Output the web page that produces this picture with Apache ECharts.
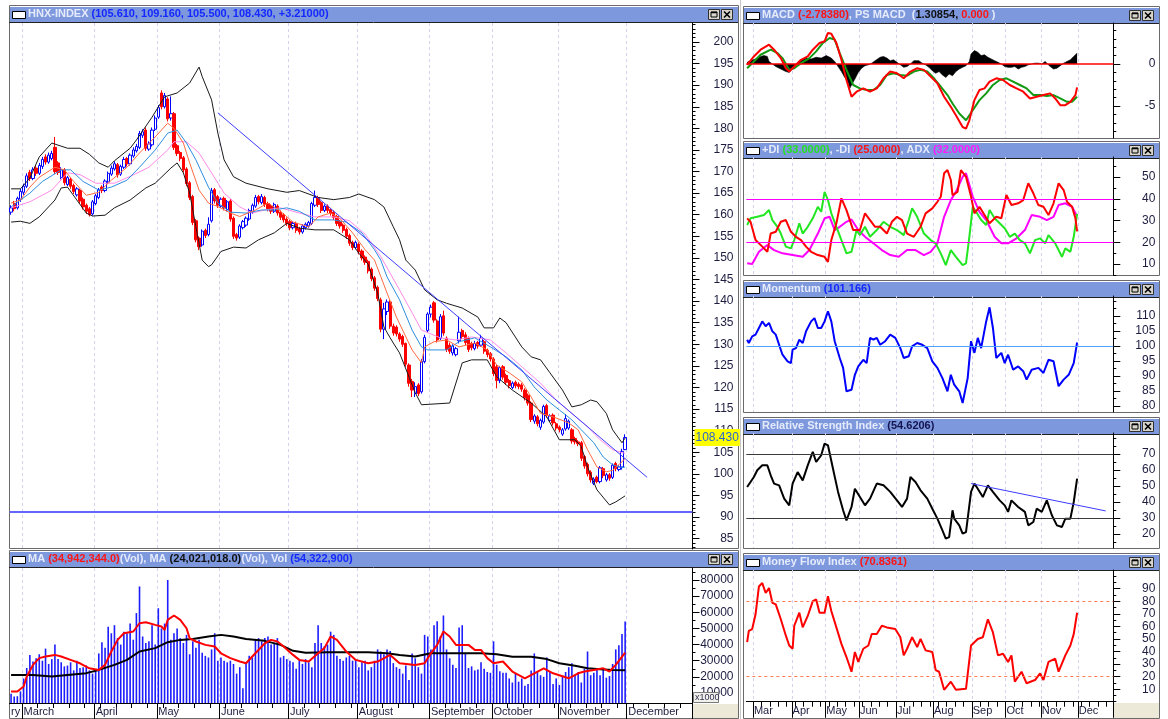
<!DOCTYPE html>
<html>
<head>
<meta charset="utf-8">
<script src="https://cdn.jsdelivr.net/npm/echarts@6/dist/echarts.min.js"></script>
<style>
  html, body { margin: 0; padding: 0; background: #fff; }
  #chart { width: 1168px; height: 719px; }
</style>
</head>
<body>
<div id="chart"></div>
<script>
// trading days per month on the shared date axis (Feb tail .. empty December)
const monthNames = ['ry', 'March', 'April', 'May', 'June', 'July', 'August', 'September', 'October', 'November', 'December'];
const monthShort = ['', 'Mar', 'Apr', 'May', 'Jun', 'Jul', 'Aug', 'Sep', 'Oct', 'Nov', 'Dec'];
const monthLens = [4, 23, 20, 20, 22, 22, 23, 20, 21, 22, 21];

// HNX-INDEX daily candles: [open, close, low, high]
const ohlc = [
  [160.6,161.6,160.0,162.2],[162.6,161.4,160.8,163.2],[161.6,163.8,161.2,164.2],[163.6,165.4,163.0,166.0],[165.2,166.6,164.6,167.2],
  [166.6,169.0,166.2,169.6],[169.8,168.4,167.8,170.4],[168.4,170.4,168.0,171.0],[170.8,169.6,169.0,171.4],[169.6,171.4,169.2,172.0],
  [171.2,172.8,170.6,173.4],[173.4,172.2,171.6,174.0],[172.2,173.8,171.8,174.4],[173.0,174.2,172.6,174.8],[175.6,170.0,169.4,178.0],
  [172.0,169.8,169.2,172.4],[168.6,170.4,168.2,171.0],[170.4,167.4,166.8,170.8],[167.0,168.6,166.6,169.0],[168.2,166.6,166.0,168.6],
  [166.8,165.4,164.8,167.2],[164.6,166.0,164.2,166.4],[165.6,163.2,162.6,166.0],[163.6,161.8,161.2,164.0],[162.2,160.8,160.2,162.6],
  [161.4,160.0,159.6,161.8],[160.2,163.0,159.8,163.4],[162.6,164.4,162.2,164.8],[164.0,165.8,163.6,166.2],[166.4,165.6,165.0,166.8],
  [165.6,167.8,165.2,168.2],[167.6,169.6,167.2,170.0],[169.4,170.8,169.0,171.4],[170.6,171.8,170.2,172.4],[171.6,169.2,168.6,172.0],
  [169.4,171.2,169.0,171.6],[171.0,172.8,170.6,173.4],[173.0,171.8,171.2,173.4],[171.8,173.8,171.4,174.2],[173.6,175.0,173.2,175.6],
  [174.8,175.8,174.4,176.4],[175.6,178.8,175.2,179.4],[178.4,179.2,177.8,179.8],[179.6,175.4,174.8,180.2],[175.2,176.4,174.8,177.0],
  [176.2,179.6,175.8,180.2],[179.8,182.4,179.4,183.0],[182.6,184.8,182.2,185.4],[188.2,185.0,184.4,188.8],[185.0,187.6,184.6,188.2],
  [186.8,182.2,181.6,187.2],[182.4,183.4,181.8,187.4],[183.4,175.6,175.0,183.8],[176.0,174.2,173.6,176.4],[174.4,173.0,172.4,174.8],
  [173.2,170.4,169.8,173.6],[170.6,167.2,166.6,171.0],[167.4,164.0,163.4,167.8],[164.2,158.2,157.6,164.6],[158.6,154.2,153.6,159.0],
  [154.6,152.6,151.8,155.0],[153.0,156.2,152.6,156.6],[156.4,155.2,154.6,156.8],[155.4,157.8,155.0,159.4],[158.6,165.6,158.2,166.2],
  [165.8,163.2,162.6,166.2],[164.2,162.2,161.6,164.6],[162.0,163.6,161.6,164.0],[163.8,161.6,161.0,164.2],[161.2,163.0,160.8,163.4],
  [163.2,159.0,158.4,163.6],[159.2,155.0,154.4,159.6],[155.4,154.6,154.0,155.8],[154.8,157.4,154.4,157.8],[157.0,158.4,156.6,158.8],
  [157.6,159.2,157.2,159.6],[159.0,161.0,158.6,161.4],[160.6,162.2,160.2,162.6],[162.0,164.0,161.6,164.6],[164.2,163.0,162.4,164.6],
  [162.8,164.2,162.4,164.8],[164.0,162.4,161.8,164.4],[162.6,161.4,160.8,163.0],[162.0,160.8,160.2,162.4],[160.8,162.4,160.4,162.8],
  [162.0,160.4,159.8,162.4],[160.6,159.4,158.8,161.0],[160.0,158.8,158.2,160.4],[159.0,158.0,157.4,159.4],[158.4,157.0,156.4,158.8],
  [157.0,158.0,156.6,158.4],[158.0,156.4,155.8,158.4],[156.8,156.0,155.4,157.2],[156.0,157.4,155.6,157.8],[157.0,157.8,156.6,158.2],
  [157.4,158.2,157.0,158.6],[158.0,162.6,157.6,163.0],[162.2,164.0,161.8,165.6],[164.0,162.4,161.8,164.4],[162.8,161.0,160.4,163.2],
  [161.0,162.0,160.6,162.4],[162.0,161.0,160.4,162.4],[161.2,160.4,159.8,161.6],[160.6,159.4,158.8,161.0],[159.6,158.0,157.4,160.0],
  [158.4,157.4,156.8,158.8],[157.6,156.4,155.8,158.0],[156.6,155.0,154.4,157.0],[155.2,153.4,152.8,155.6],[153.6,152.4,151.8,154.0],
  [152.4,153.6,152.0,154.0],[153.2,151.4,150.8,153.6],[151.6,150.0,149.4,152.0],[150.2,149.0,148.4,150.6],[149.2,147.0,146.4,149.6],
  [147.4,145.2,144.6,147.8],[145.4,143.0,142.4,145.8],[143.2,140.6,140.0,143.6],[140.3,133.5,132.8,140.8],[133.5,138.2,131.2,139.6],
  [137.6,139.8,136.8,140.4],[139.8,134.2,133.6,140.2],[134.2,132.6,132.0,134.8],[134.0,132.4,131.8,134.4],[132.4,131.2,130.6,132.8],
  [131.8,130.0,129.4,132.2],[130.2,125.4,124.8,130.4],[125.2,121.0,120.2,125.6],[121.4,119.4,117.8,122.0],[118.6,120.2,117.8,121.2],
  [120.6,118.6,118.0,121.0],[119.0,126.0,118.6,126.6],[126.0,131.6,125.6,132.2],[133.2,137.0,132.8,137.4],[137.0,138.6,136.2,139.2],
  [139.6,135.6,135.0,140.0],[135.4,131.0,130.4,135.8],[131.4,136.4,131.0,137.0],[136.6,132.6,132.0,137.8],[131.4,128.8,128.2,131.8],
  [129.8,128.4,127.8,130.4],[128.0,129.6,127.4,130.0],[127.6,129.0,127.2,129.4],[130.8,132.8,130.2,136.4],[133.2,131.8,131.2,133.6],
  [132.2,130.4,129.8,132.8],[131.4,128.8,128.2,131.8],[130.2,129.2,128.6,130.6],[129.0,130.2,128.6,130.8],[130.4,129.6,129.0,130.8],
  [129.8,131.4,129.4,132.2],[130.6,128.4,127.8,131.0],[128.6,127.6,127.0,129.0],[127.8,126.6,126.0,128.2],[126.6,123.2,122.6,127.0],
  [124.8,121.6,119.8,125.2],[121.6,124.6,121.0,125.0],[124.8,122.4,121.8,125.2],[122.8,121.2,120.6,123.2],[121.6,120.4,119.8,122.0],
  [120.0,121.0,119.6,121.4],[121.2,120.4,119.8,121.6],[120.8,120.2,119.6,121.2],[120.6,119.6,119.0,121.0],[119.4,117.6,117.0,119.8],
  [118.2,116.4,115.8,118.6],[116.4,112.6,112.0,116.8],[112.2,113.4,111.6,113.8],[113.2,111.6,111.0,113.6],[110.8,112.4,110.2,112.8],
  [112.0,115.6,111.6,116.0],[115.8,113.6,113.0,116.2],[112.4,113.4,112.0,113.8],[113.6,111.8,111.2,114.0],[111.6,110.6,110.0,112.0],
  [110.8,110.2,109.6,111.2],[109.2,110.2,108.8,110.6],[110.4,112.8,110.0,113.8],[110.6,112.2,110.2,112.6],[110.2,107.6,107.0,110.6],
  [108.2,107.4,106.8,108.6],[107.4,107.0,106.4,107.8],[107.2,103.6,103.0,107.6],[104.0,101.8,101.2,104.4],[102.2,100.0,99.4,102.6],
  [100.4,98.6,98.0,100.8],[97.8,98.8,97.4,99.2],[99.2,98.2,97.8,99.6],[98.2,101.4,97.8,101.8],[101.2,99.6,99.0,101.6],
  [98.6,99.8,98.2,100.2],[99.8,99.0,98.4,100.2],[99.2,102.0,98.8,102.4],[102.4,101.2,100.6,102.8],[101.0,101.6,100.6,102.0],
  [101.6,105.22,101.0,105.8],[105.61,108.43,105.5,109.16]
];

// daily volume, thousands of shares
const volume = [
  9500,7800,8000,11000,19000,25500,33500,29500,31500,34000,30000,37500,28000,31000,40000,31000,29000,26500,27000,29000,
  24000,30000,25500,26000,27000,24000,22000,24000,34500,41500,38000,51000,47000,52000,44000,40000,48000,47000,53000,43000,
  59500,76000,45000,41000,42000,52000,40000,62500,50000,53000,80000,43000,47000,50000,44000,41000,46000,34000,42000,38000,
  43000,35000,33000,32000,37000,47000,30000,32000,30000,29000,30000,28000,22000,26000,13000,29000,33000,32000,43000,44000,
  42000,44000,45000,40000,41000,44000,32000,33000,31000,30000,29000,25000,30000,28000,31000,29000,26000,41000,52000,41000,
  39000,40000,48000,46000,33000,31000,30000,32000,33000,30000,31000,26000,29000,30000,24000,26000,30000,37000,35700,34000,
  37000,36000,28500,26000,25000,22000,27000,18000,34500,31500,26000,22000,46000,45000,37000,52000,54500,45000,58000,37000,
  31500,27500,25500,50500,52000,34500,25500,26500,24000,24500,29000,25000,23000,22500,42000,27500,23500,22500,22500,19000,
  16500,22000,17000,19000,14500,15500,24000,34500,23000,21000,20000,32000,23000,15500,19000,15000,20000,23000,26000,28500,
  21000,23000,16500,25000,35700,21000,22500,25500,21000,25500,19500,20500,28000,37000,39500,46500,54323
];

// [day, value] readings of the overlay lines
const bbUpper = [[0,166],[3,166],[6,168.5],[9,173.4],[13,176.6],[18,175.4],[22,175.4],[25,174],[28,172],[31,171],[33,172.5],[38,175.4],[40,177.3],[45,182.6],[49,187.3],[53,188.2],[57,190.5],[60,194.2],[61,192],[64,186.6],[66,178.9],[68,172.7],[71,168.8],[75,167.3],[82,166],[88,165.2],[92,165.6],[98,164],[103,163.5],[108,164],[111,164.8],[116,163.5],[119,161.8],[122,157.2],[124,154.2],[126,149.5],[129,147.2],[132,142.6],[136,140.3],[139,139.5],[144,138.4],[149,136.3],[151,133.8],[154,133.8],[156,136.1],[158,135],[163,129.4],[166,127.1],[169,126.4],[172,123.4],[176,119.4],[179,115.5],[182,116],[185,117.1],[187,116.7],[190,114],[192,110.2],[195,107.2],[196,108.3]];
const bbLower = [[0,158.3],[3,158.5],[6,158],[9,159.5],[14,163.4],[16,166.2],[18,166.4],[21,163.4],[24,160.4],[26,159.7],[30,159.9],[33,161.6],[38,163.4],[43,166.2],[46,167.3],[51,170.8],[53,172],[55,169.7],[57,165],[59,157.2],[61,149.5],[63,148],[64,148.4],[67,151.5],[71,152.5],[75,152.3],[79,154.2],[84,155.8],[88,158],[92,156.9],[97,156.5],[103,156.5],[108,154.2],[111,151.1],[114,148.5],[117,141.9],[119,134],[121,131.5],[122,130.3],[124,128],[129,118.8],[131,116],[140,116.4],[144,125.7],[147,126.4],[152,126.4],[155,122.5],[160,119.4],[166,116.4],[171,113.2],[175,107.9],[180,107.9],[182,106.3],[184,101.6],[187,96.3],[191,92.8],[193,93.5],[196,94.9]];
const maFast = [[0,162.7],[3,163.4],[6,166.4],[9,168.7],[14,171],[17,170.4],[20,167.7],[24,164.5],[28,165.2],[32,168],[37,171],[41,174.3],[46,178],[50,181.2],[52,180],[55,176.6],[57,172],[60,165.7],[63,162.7],[66,161.9],[70,160.4],[73,159.6],[78,161.1],[82,162.7],[86,160.8],[90,158.3],[95,157.2],[98,159.5],[102,160.4],[105,159.1],[109,155.8],[113,151.9],[116,149.5],[118,145.7],[120,141.9],[123,136.3],[128,128.7],[131,125.7],[132,129.4],[135,130.6],[139,131],[143,129.4],[148,130.3],[152,128.7],[155,125.2],[159,123.4],[163,121.3],[166,117.8],[169,114],[173,113.2],[178,111.8],[181,110.2],[184,105.6],[187,101.6],[190,100.5],[192,100.8],[195,102.8],[196,103.6]];
const maMid = [[0,161.8],[6,165],[10,167.7],[16,170.4],[19,170.4],[23,167.7],[28,165.7],[32,166.4],[37,168],[41,171],[46,175],[50,178.9],[53,179.6],[56,176.6],[59,172.7],[63,166.4],[66,162.7],[70,160.6],[75,160.4],[80,161.1],[84,161.1],[88,161.6],[92,160.8],[97,158.8],[103,158.8],[107,158.3],[112,155.8],[116,151.9],[118,149.5],[120,145.6],[124,140.3],[128,133.3],[131,129.4],[133,128.7],[139,128.7],[143,130.6],[148,131.5],[153,129.4],[158,127.1],[163,124.1],[167,120.1],[171,117.1],[175,114.8],[179,112.5],[182,110.2],[186,107.2],[189,103.9],[192,102.1],[195,101.4],[196,101.6]];
const maSlow = [[0,161.6],[6,163],[13,165.7],[18,169.7],[22,169.3],[27,167.3],[33,167.3],[39,169.2],[44,171],[50,175],[52,176.9],[56,176.9],[60,174.3],[64,169.7],[68,165],[73,161.8],[77,160.4],[81,161.1],[86,161.6],[92,160.4],[97,159.5],[103,159.5],[108,158.6],[113,155.5],[118,150.3],[124,142.6],[128,137.3],[131,133.3],[137,131.5],[142,131],[147,131.7],[153,131],[158,128],[163,124.8],[169,121],[174,117.1],[179,114],[184,110.9],[188,107.9],[192,105.6],[195,104.9],[196,104.8]];
const trendMain = [[66,183.6],[203,99.2]];
const supportLevel = 91.3;

const volMaShort = [[0,10900],[2,10900],[4,14000],[5,20200],[7,27400],[9,31600],[11,32600],[14,33600],[16,32600],[19,30500],[22,28400],[25,25300],[28,24300],[30,27400],[32,35700],[34,42900],[36,47000],[39,48100],[41,53200],[43,53800],[46,52200],[48,51200],[49,49100],[50,55300],[52,58000],[54,55300],[56,50100],[57,43900],[59,41900],[62,39800],[65,38800],[67,34600],[70,31600],[73,29500],[75,28400],[77,32600],[81,40800],[83,42900],[85,41900],[87,38800],[90,33600],[92,30500],[95,29500],[98,34600],[100,37800],[102,45000],[104,42900],[107,35700],[110,30500],[114,28400],[117,29500],[121,33600],[124,28400],[129,27400],[132,28400],[134,34600],[136,39800],[138,48100],[140,45000],[142,39800],[146,39800],[148,36700],[150,36700],[152,31600],[154,28400],[157,29500],[160,23300],[164,19100],[167,22200],[170,25300],[173,22200],[178,19100],[181,22200],[183,23300],[186,24300],[189,25300],[191,23300],[193,27400],[196,34942]];
const volMaLong = [[0,21200],[7,21200],[13,20200],[18,21200],[24,22300],[28,24300],[33,27400],[37,30500],[41,35700],[46,37800],[50,41500],[54,42900],[58,43500],[63,45000],[67,46000],[71,45000],[75,43500],[81,42300],[86,39800],[90,36100],[94,35000],[101,35200],[107,35200],[114,35200],[120,34600],[124,33600],[129,32600],[134,34600],[139,34600],[145,34600],[150,34600],[155,34000],[160,32400],[166,32400],[171,31000],[175,28400],[180,26900],[184,25300],[188,24700],[192,24300],[196,24021]];

const macdLine = [[0,-0.1],[4,0.9],[8,1.7],[13,2.3],[16,1.7],[20,0.7],[23,-0.5],[25,-0.9],[28,-0.3],[32,0.5],[36,0.9],[39,1.7],[43,2.5],[46,2.7],[48,3.7],[50,3.6],[53,2.5],[56,0.5],[59,-1.9],[62,-3.9],[65,-3.3],[69,-2.9],[73,-3.3],[77,-2.9],[81,-1.7],[85,-0.9],[89,-1.1],[93,-1.7],[97,-0.9],[101,-0.5],[105,-0.7],[109,-1.5],[113,-2.3],[117,-3.9],[121,-5.1],[124,-6.1],[128,-7.5],[130,-7.7],[132,-6.7],[135,-4.3],[138,-3.1],[141,-2.9],[144,-2.1],[148,-1.7],[152,-1.9],[156,-2.5],[160,-2.9],[164,-3.3],[168,-4.1],[172,-3.9],[176,-3.7],[180,-3.5],[183,-4.1],[186,-4.9],[189,-4.9],[192,-4.5],[195,-3.7],[196,-2.78]];
const macdSignal = [[0,-0.5],[4,0.3],[8,1.1],[14,1.7],[18,1.3],[21,0.7],[25,-0.7],[28,-0.5],[32,0.1],[37,0.7],[41,1.5],[45,2.5],[49,3.1],[52,2.9],[55,1.3],[59,-0.7],[63,-2.5],[67,-2.9],[71,-3.1],[75,-3.1],[79,-2.5],[83,-1.3],[87,-1.1],[91,-1.3],[95,-1.4],[99,-0.9],[103,-0.7],[107,-0.9],[111,-1.7],[115,-2.7],[119,-3.7],[122,-4.7],[126,-5.9],[130,-6.7],[134,-5.5],[138,-4.3],[142,-3.5],[146,-2.5],[150,-1.9],[154,-1.7],[158,-2.1],[162,-2.5],[166,-2.9],[170,-3.7],[174,-3.7],[178,-3.8],[182,-3.7],[186,-4.1],[190,-4.5],[193,-4.5],[196,-3.9]];
const macdHist = [[0,0.2],[2,0.4],[5,0.6],[8,0.9],[10,1.0],[12,0.9],[13,0.3],[15,0],[17,-0.3],[20,-0.6],[23,-0.9],[25,-1.0],[27,-0.5],[29,0],[31,0.4],[33,0.5],[35,0.7],[38,0.6],[41,0.8],[44,0.7],[47,1.0],[48,0.8],[50,0.7],[52,0.3],[54,-0.3],[56,-0.9],[58,-1.6],[60,-2.2],[61,-2.9],[62,-2.5],[64,-1.8],[66,-1.0],[68,-0.5],[70,-0.2],[72,-0.1],[74,0.1],[76,0.4],[79,0.8],[81,0.9],[83,0.7],[85,0.4],[87,0.5],[89,0.2],[91,-0.1],[93,-0.4],[95,-0.3],[97,0],[99,0.4],[100,0.5],[102,0.4],[104,0.1],[106,-0.1],[108,-0.4],[110,-0.8],[112,-1.1],[114,-0.9],[116,-1.3],[118,-1.6],[120,-1.2],[122,-1.4],[124,-0.9],[126,-0.6],[128,-0.4],[130,-0.2],[132,0.3],[133,1.2],[135,1.6],[137,1.4],[139,1.0],[141,1.1],[143,0.8],[145,0.6],[147,0.4],[149,0.2],[151,0],[153,-0.3],[155,-0.4],[157,-0.4],[159,-0.3],[161,-0.6],[163,-0.4],[165,-0.3],[167,-0.1],[169,0],[171,0.1],[173,0.1],[175,0],[177,0.3],[178,0.1],[180,-0.3],[182,-0.6],[184,-0.5],[186,-0.2],[188,0.1],[190,0.3],[192,0.5],[194,0.9],[195,1.1],[196,1.3]];

const plusDI = [[0,27.9],[2,31],[6,31.7],[10,32.5],[13,34.8],[15,30.2],[18,27.1],[20,24],[23,18],[26,17.2],[28,21],[31,28.7],[33,24],[36,27.1],[39,31],[42,36.3],[44,34],[46,43.2],[48,39.4],[50,33.3],[53,27.1],[56,21],[59,14.9],[62,15.6],[65,25.6],[67,23.3],[70,27.1],[73,22.5],[77,25.6],[81,29.4],[85,27.1],[89,25.6],[93,23.3],[96,30.2],[98,35.6],[101,31.7],[105,24],[109,21],[112,19.5],[115,14.9],[118,9.5],[121,16.4],[124,13.3],[128,9.5],[130,10.3],[132,22.5],[134,36.3],[136,34],[139,30.2],[142,27.9],[144,34.8],[147,31],[150,28.7],[153,26.4],[156,22.5],[159,24],[162,21],[165,19.5],[168,14.9],[171,21],[174,21.8],[177,19.5],[179,23.3],[183,19.5],[187,13.3],[189,17.2],[192,15.6],[194,22.5],[196,33]];
const minusDI = [[0,31],[2,29.4],[5,21],[9,18],[12,15.6],[14,24],[17,24.8],[20,29.4],[23,30.2],[26,24.8],[29,22.5],[32,21],[35,18],[38,15.6],[42,14.1],[46,13.3],[48,11],[50,21],[53,28.7],[56,40.2],[59,34.8],[63,25.6],[67,25.6],[70,33.3],[73,30.2],[76,27.1],[79,27.1],[83,24],[86,29.4],[89,31.7],[92,30.2],[95,24],[99,22.5],[103,27.1],[106,33.3],[110,35.6],[113,38.6],[115,40.9],[117,51.7],[119,53.2],[121,48.6],[122,41.7],[125,43.2],[127,53.2],[130,50.1],[133,41],[135,33.3],[138,36.3],[141,32.5],[144,28.7],[148,31.7],[151,31],[154,41.7],[157,37.1],[161,37.9],[164,39.4],[167,47.1],[170,42.5],[173,37.1],[176,36.3],[179,32.5],[182,37.9],[185,47.1],[188,44],[190,38.6],[193,36.3],[195,31],[196,25]];
const adx = [[0,10.3],[3,10],[7,15.6],[12,18.7],[16,16.4],[21,14.9],[27,14.1],[33,13.3],[37,16.4],[42,24],[46,31],[49,31.7],[52,25.6],[55,27.1],[59,29.4],[62,30.5],[66,25.6],[70,22.5],[75,19.5],[80,16.4],[85,14.1],[90,13.3],[95,16.4],[100,16.4],[105,14.1],[109,15.6],[113,19.5],[117,31.7],[121,39.4],[124,43.2],[128,50.1],[130,51.7],[134,41],[138,34],[142,30.2],[147,22.5],[151,19.5],[155,19.5],[160,21.8],[165,25.6],[169,32.5],[174,31.7],[178,30.2],[182,31.7],[185,37.1],[189,37.9],[193,36.3],[196,32]];

const momentum = [[0,102.1],[1,101],[3,103.2],[5,103.8],[7,106],[9,108.2],[11,106.6],[13,107.7],[15,104.9],[17,103.8],[19,100.4],[21,97.1],[24,94.9],[26,94.3],[27,98.8],[29,99.3],[31,102.1],[33,101],[35,104.9],[38,108.2],[40,109.3],[42,106],[44,106],[46,108.2],[48,111.6],[50,108.2],[52,101.6],[55,96],[57,92.7],[59,84.9],[62,85.4],[64,90.4],[66,93.2],[69,95.4],[71,94.3],[73,102.7],[75,102.1],[77,102.7],[79,100.4],[82,101.6],[85,103.8],[88,102.7],[91,99.3],[93,96],[96,96.6],[98,99.9],[101,101],[104,100.4],[107,99.3],[110,94.9],[113,92.7],[116,89.3],[119,84.9],[121,90.4],[123,87.1],[126,84.9],[128,81],[131,89.3],[133,101.6],[135,97.7],[137,102.7],[139,99.3],[142,108.2],[144,112.9],[146,106],[148,96],[151,97.7],[153,94.3],[155,97.1],[158,92.1],[161,93.2],[164,91.6],[166,88.8],[169,92.1],[173,92.7],[176,91],[179,95.4],[182,94.9],[185,86.6],[188,88.8],[191,90.4],[194,94.3],[196,101.166]];
const rsi = [[0,49.4],[1,49.4],[4,55.6],[6,59.8],[9,62.9],[12,62.9],[14,56.7],[16,51.5],[19,50.4],[22,42.1],[25,37.9],[27,51.5],[30,58.7],[33,53.5],[36,62.9],[39,71.3],[41,65],[44,69.2],[46,76.5],[48,75.4],[51,60.8],[54,46.3],[57,34.8],[59,28.5],[62,36.9],[64,48.3],[67,43.1],[70,37.9],[73,42.1],[77,51.5],[81,50.4],[85,46.3],[89,41],[92,36.9],[95,42.1],[97,55.6],[100,52.5],[103,47.3],[107,42.1],[110,35.8],[113,29.6],[116,22.3],[118,17.1],[120,18.1],[122,34.8],[123,29.6],[126,25.4],[128,20.2],[130,21.2],[133,46.3],[135,51.5],[137,48.3],[140,43.1],[143,50.4],[146,46.3],[150,41],[153,37.9],[155,33.8],[157,41],[161,36.9],[165,33.8],[167,25.4],[170,27.5],[172,35.8],[175,33.8],[178,41],[181,31.7],[184,25.4],[187,24.4],[189,29.6],[192,29.6],[194,40],[196,54.62]];
const rsiTrend = [[133,51.5],[213,34.4]];
const mfi = [[0,47.4],[1,56.5],[3,57.9],[5,69.6],[7,91.8],[9,94.5],[11,86.6],[13,90.5],[15,78.8],[17,77.5],[20,65.7],[23,52.6],[25,44.8],[27,42.2],[28,60.5],[31,70.9],[33,59.2],[36,68.3],[39,80.1],[41,81.4],[43,70.9],[46,70.9],[48,84],[50,72.2],[53,59.2],[56,46.1],[59,35.6],[62,23.9],[64,39.6],[66,31.7],[69,42.2],[72,44.8],[74,53.9],[77,53.9],[80,60.5],[83,59.2],[88,57.9],[91,51.4],[93,36.9],[95,42.2],[98,51.4],[101,43.5],[103,50],[106,40.9],[110,39.6],[112,25.2],[114,23.9],[117,9.5],[121,16],[124,9.5],[130,10.3],[133,44.8],[137,50],[140,51.4],[143,65.7],[146,55.2],[149,36.9],[152,38.2],[155,31.7],[157,36.9],[159,16],[163,23.9],[166,14.7],[171,17.3],[174,22.6],[176,17.3],[179,31.7],[183,34.3],[185,23.9],[189,36.9],[192,44.8],[194,53.9],[196,70.84]];

// axis tick labels
const priceTicks = [85,90,95,100,105,110,115,120,125,130,135,140,145,150,155,160,165,170,175,180,185,190,195,200];
const volTicks = [10000,20000,30000,40000,50000,60000,70000,80000];
const macdTicks = [-5, 0];
const diTicks = [10, 20, 30, 40, 50];
const momTicks = [80, 85, 90, 95, 100, 105, 110];
const rsiTicks = [20, 30, 40, 50, 60, 70];
const mfiTicks = [10, 20, 30, 40, 50, 60, 70, 80, 90];

// ---------- build the date categories ----------
const days = [];
const monthAt = {};
monthLens.forEach(function (n, m) {
  monthAt[days.length] = m;
  for (let d = 1; d <= n; d++) days.push(m + '-' + d);
});
const isMonth = function (i) { return monthAt[i] !== undefined; };
const isWeek = function (i) { return i > 4 && (i - 4) % 5 === 0 && !isMonth(i); };

function steps(a, b, s) { const r = []; for (let v = a; v <= b + 1e-9; v += s) r.push(+v.toFixed(2)); return r; }

const FONT = "'Liberation Sans', Arial, sans-serif";
const labelColor = '#1c1c40';
const gridDash = { color: '#d2d2ee', type: [3, 3], width: 1 };

// ---------- grids ----------
const L0 = 9.5, W0 = 683, L1 = 746.3, W1 = 367;
const grids = [
  { left: L0, top: 23, width: W0, height: 526 },    // price
  { left: L0, top: 568, width: W0, height: 135 },   // volume
  { left: L1, top: 23, width: W1, height: 115 },    // MACD
  { left: L1, top: 157, width: W1, height: 118 },   // DI
  { left: L1, top: 296, width: W1, height: 116 },   // Momentum
  { left: L1, top: 433, width: W1, height: 115 },   // RSI
  { left: L1, top: 570, width: W1, height: 132 }    // MFI
].map(function (g) { return Object.assign({ outerBoundsMode: 'none', containLabel: false }, g); });

function xBase(gi) {
  return {
    type: 'category', gridIndex: gi, data: days, position: 'bottom', boundaryGap: true,
    axisLine: { show: false }, axisTick: { show: false }, axisLabel: { show: false },
    splitLine: { show: true, interval: function (i) { return i > 0 && isMonth(i); }, lineStyle: gridDash }
  };
}
function xLabelled(gi, names) {
  const a = xBase(gi);
  a.axisLine = { show: true, lineStyle: { color: '#000', width: 1 } };
  a.axisTick = { show: true, interval: function (i) { return i > 0 && isMonth(i); }, length: 16, lineStyle: { color: '#000' } };
  a.axisLabel = {
    show: true, interval: function (i) { return isMonth(i); }, align: 'left', margin: 3,
    color: labelColor, fontSize: 11, fontFamily: FONT,
    formatter: function (v, i) { return isMonth(i) ? names[monthAt[i]] : ''; }
  };
  return a;
}
function xWeeks(gi) {
  return {
    type: 'category', gridIndex: gi, data: days, position: 'bottom', boundaryGap: true,
    axisLine: { show: false }, axisLabel: { show: false }, splitLine: { show: false },
    axisTick: { show: true, interval: function (i) { return isWeek(i); }, length: 5, lineStyle: { color: '#000' } }
  };
}
const xAxes = [
  xBase(0), xLabelled(1, monthNames), xWeeks(1),
  xBase(2), xBase(3), xBase(4), xBase(5), xLabelled(6, monthShort), xWeeks(6)
];
const xIdx = { price: 0, vol: 1, macd: 3, di: 4, mom: 5, rsi: 6, mfi: 7 };

function yPair(gi, min, max, labels, minor, margin) {
  return [{
    type: 'value', gridIndex: gi, position: 'right', min: min, max: max,
    axisLine: { show: true, lineStyle: { color: '#000' } },
    axisTick: { show: true, customValues: labels, length: 7, lineStyle: { color: '#000' } },
    axisLabel: { show: true, customValues: labels, align: 'right', margin: margin, color: labelColor, fontSize: 12, fontFamily: FONT,
                 formatter: function (v) { return String(v); } },
    splitLine: { show: false }
  }, {
    type: 'value', gridIndex: gi, position: 'right', min: min, max: max,
    axisLine: { show: false }, axisLabel: { show: false }, splitLine: { show: false },
    axisTick: { show: true, customValues: minor, length: 3, lineStyle: { color: '#000' } }
  }];
}
const yAxes = [].concat(
  yPair(0, 82.6, 204.4, priceTicks, steps(83, 204, 1), 41),
  yPair(1, 3800, 87430, volTicks, steps(5000, 85000, 5000), 41),
  yPair(2, -8.81, 4.88, macdTicks, steps(-8, 4, 1), 42),
  yPair(3, 4.94, 59.2, diTicks, steps(5, 55, 5), 42),
  yPair(4, 78, 116.67, momTicks, steps(80, 115, 2.5), 42),
  yPair(5, 11.25, 83.1, rsiTicks, steps(15, 80, 5), 42),
  yPair(6, -0.2, 104.9, mfiTicks, steps(0, 100, 5), 42)
);
const yIdx = { price: 0, vol: 2, macd: 4, di: 6, mom: 8, rsi: 10, mfi: 12 };

function line(panel, data, color, width, extra) {
  return Object.assign({
    type: 'line', xAxisIndex: xIdx[panel], yAxisIndex: yIdx[panel], data: data,
    symbol: 'none', smooth: false, lineStyle: { color: color, width: width }, animation: false, z: 3
  }, extra || {});
}
function hLines(values, style) {
  return {
    symbol: 'none', silent: true, animation: false, label: { show: false },
    lineStyle: style, data: values.map(function (v) { return { yAxis: v }; })
  };
}

const lastClose = ohlc[ohlc.length - 1][1];
const series = [
  {
    type: 'candlestick', xAxisIndex: 0, yAxisIndex: 0, data: ohlc, barWidth: 2.8, animation: false,
    itemStyle: { color: '#ffffff', color0: '#ff0000', borderColor: '#0000ff', borderColor0: '#ff0000', borderWidth: 1 },
    markLine: {
      symbol: 'none', silent: true, animation: false,
      data: [
        { yAxis: supportLevel, lineStyle: { color: '#6464ff', width: 2, type: 'solid' }, label: { show: false } },
        { yAxis: lastClose, lineStyle: { color: 'rgba(255,255,255,0)', width: 0 },
          label: { show: true, position: 'end', distance: 2, formatter: lastClose.toFixed(3), backgroundColor: '#ffff00',
                   color: '#2a66d0', fontSize: 12, fontFamily: FONT, padding: [3, 1, 2, 1], opacity: 1 } }
      ]
    }
  },
  line('price', bbUpper, '#1a1a1a', 1),
  line('price', bbLower, '#1a1a1a', 1),
  line('price', maSlow, '#ff8ae8', 1),
  line('price', maMid, '#2b8ee0', 1),
  line('price', maFast, '#ff6a40', 1),
  line('price', trendMain, '#3c3cff', 1),

  { type: 'bar', xAxisIndex: 1, yAxisIndex: 2, data: volume, barWidth: 1.6, animation: false,
    itemStyle: { color: '#1c1cff' } },
  line('vol', volMaLong, '#000000', 2),
  line('vol', volMaShort, '#ff0000', 2),

  line('macd', macdHist, '#000000', 0.6, { areaStyle: { color: '#000000', opacity: 1 }, z: 2,
    markLine: hLines([0], { color: '#ff0000', width: 1.5, type: 'solid' }) }),
  line('macd', macdSignal, '#139a13', 2),
  line('macd', macdLine, '#ff0000', 2),

  line('di', adx, '#ff00ff', 2, { markLine: hLines([40, 20], { color: '#ff00ff', width: 1, type: 'solid' }) }),
  line('di', plusDI, '#22e622', 2),
  line('di', minusDI, '#ff0000', 2),

  line('mom', momentum, '#0000ff', 2, { markLine: hLines([100], { color: '#4da2ff', width: 1.2, type: 'solid' }) }),

  line('rsi', rsi, '#000000', 2, { markLine: hLines([70, 30], { color: '#3a3a3a', width: 1, type: 'solid' }) }),
  line('rsi', rsiTrend, '#3c3cff', 1),

  line('mfi', mfi, '#ff0000', 2, { markLine: hLines([80, 20], { color: '#ff7a55', width: 1, type: [3, 3] }) })
];

// ---------- panel chrome: frames, caption bars, buttons ----------
const BAR = '#7d98dd';
const panels = [
  { x1: 9, x2: 738, top: 7, bottom: 549 },
  { x1: 9, x2: 738, top: 552, bottom: 719 },
  { x1: 743, x2: 1159, top: 8, bottom: 139 },
  { x1: 743, x2: 1159, top: 143, bottom: 276 },
  { x1: 743, x2: 1159, top: 282, bottom: 413 },
  { x1: 743, x2: 1159, top: 419, bottom: 549 },
  { x1: 743, x2: 1159, top: 555, bottom: 719 }
];
const graphics = [
  { type: 'rect', shape: { x: 693, y: 704, width: 45, height: 15 }, style: { fill: '#ece9d8' }, silent: true },
  { type: 'rect', shape: { x: 1114, y: 703, width: 45, height: 16 }, style: { fill: '#ece9d8' }, silent: true },
  { type: 'line', shape: { x1: 740.5, y1: 0, x2: 740.5, y2: 719 }, style: { stroke: '#c8c8c8', lineWidth: 1 }, silent: true }
];
panels.forEach(function (p) {
  graphics.push(
    { type: 'rect', shape: { x: p.x1 + 0.5, y: p.top - 1.5, width: p.x2 - p.x1, height: p.bottom - p.top + 1 },
      style: { fill: null, stroke: '#6a6a6a', lineWidth: 1 }, silent: true },
    { type: 'rect', shape: { x: p.x1 + 1, y: p.top, width: p.x2 - p.x1 - 1, height: 15 }, style: { fill: BAR }, silent: true },
    { type: 'line', shape: { x1: p.x1, y1: p.top + 15.5, x2: p.x2, y2: p.top + 15.5 }, style: { stroke: '#202020', lineWidth: 1 }, silent: true },
    { type: 'rect', shape: { x: p.x1 + 3.5, y: p.top + 4.5, width: 13, height: 7 }, style: { fill: '#ffffff', stroke: '#000', lineWidth: 1 }, silent: true }
  );
  const bx = p.x2 - 29.5, by = p.top + 2.5;
  graphics.push(
    { type: 'rect', shape: { x: bx, y: by, width: 11, height: 10 }, style: { fill: '#d8d5cc', stroke: '#303030', lineWidth: 1 }, silent: true },
    { type: 'rect', shape: { x: bx + 2.5, y: by + 2.5, width: 6, height: 5 }, style: { fill: null, stroke: '#000', lineWidth: 1 }, silent: true },
    { type: 'line', shape: { x1: bx + 2.5, y1: by + 3, x2: bx + 8.5, y2: by + 3 }, style: { stroke: '#000', lineWidth: 1.5 }, silent: true },
    { type: 'rect', shape: { x: bx + 13, y: by, width: 11, height: 10 }, style: { fill: '#d8d5cc', stroke: '#303030', lineWidth: 1 }, silent: true },
    { type: 'line', shape: { x1: bx + 15.5, y1: by + 2, x2: bx + 21.5, y2: by + 8 }, style: { stroke: '#000', lineWidth: 1.6 }, silent: true },
    { type: 'line', shape: { x1: bx + 21.5, y1: by + 2, x2: bx + 15.5, y2: by + 8 }, style: { stroke: '#000', lineWidth: 1.6 }, silent: true }
  );
});
graphics.push(
  { type: 'rect', shape: { x: 693.5, y: 692.5, width: 25, height: 10 }, style: { fill: '#f2f0ea', stroke: '#7a7a7a', lineWidth: 1 }, silent: true, z: 10 },
  { type: 'text', x: 695, y: 693.5, style: { text: 'x1000', font: '9px ' + FONT, fill: '#303050' }, silent: true, z: 11 }
);

const rs = function (color) { return { color: color, fontSize: 11, fontWeight: 'bold', fontFamily: FONT }; };
const rich = { n: rs('#e6ebfb'), b: rs('#1428ff'), r: rs('#ff1414'), k: rs('#101010'), g: rs('#22e022'), m: rs('#ff1cff'), d: rs('#141450') };
const captions = [
  ['{n|HNX-INDEX} {b|(105.610, 109.160, 105.500, 108.430, +3.21000)}', 0],
  ['{n|MA }{r|(34,942,344.0)}{n|(Vol), MA }{k|(24,021,018.0)}{n|(Vol), Vol }{b|(54,322,900)}', 1],
  ['{n|MACD }{r|(-2.78380)}{n|, PS MACD  (}{k|1.30854, }{r|0.000 }{n|)}', 2],
  ['{n|+DI }{g|(33.0000)}{n|, -DI }{r|(25.0000)}{n|, ADX }{m|(32.0000)}', 3],
  ['{n|Momentum }{b|(101.166)}', 4],
  ['{n|Relative Strength Index }{d|(54.6206)}', 5],
  ['{n|Money Flow Index }{r|(70.8361)}', 6]
];
const titles = captions.map(function (c) {
  const p = panels[c[1]];
  return { text: c[0], left: p.x1 + 19, top: p.top + 1.5, padding: 0, textStyle: { rich: rich, fontSize: 11, fontFamily: FONT } };
});

const chart = echarts.init(document.getElementById('chart'), null, { renderer: 'canvas' });
chart.setOption({
  animation: false,
  backgroundColor: '#ffffff',
  title: titles,
  grid: grids,
  xAxis: xAxes,
  yAxis: yAxes,
  graphic: graphics,
  series: series
});
</script>
</body>
</html>
